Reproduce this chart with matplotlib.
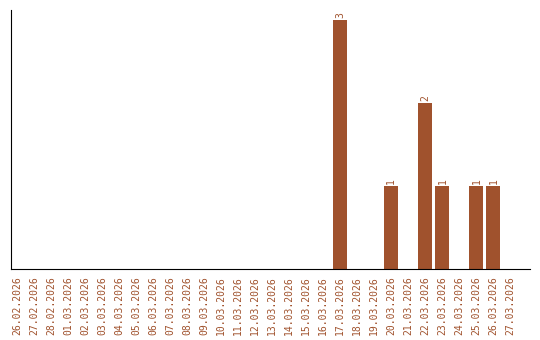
import matplotlib
matplotlib.use('Agg')
import matplotlib.pyplot as plt

# dates shown on the x axis
dates = ['26.02.2026', '27.02.2026', '28.02.2026'] + ['%02d.03.2026' % d for d in range(1, 28)]
counts = [0] * len(dates)
events = {'17.03.2026': 3, '20.03.2026': 1, '22.03.2026': 2,
          '23.03.2026': 1, '25.03.2026': 1, '26.03.2026': 1}
for d, v in events.items():
    counts[dates.index(d)] = v

color = '#A0522D'

fig = plt.figure(figsize=(5.4, 3.4), dpi=100)
ax = fig.add_axes([11 / 540, 71 / 340, 519 / 540, 259 / 340])

x = list(range(len(dates)))
bars = ax.bar(x, counts, width=0.82, color=color)
for xi, v in zip(x, counts):
    if v > 0:
        ax.text(xi, v + 0.02, str(v), rotation=90, ha='center', va='bottom',
                fontsize=7, color=color, family='DejaVu Sans Mono')

ax.set_xlim(-0.35, 30.15)
ax.set_ylim(0, 3.12)
ax.set_xticks(x)
ax.set_xticklabels(dates, rotation=90, fontsize=7, color=color, family='DejaVu Sans Mono')
ax.tick_params(axis='x', length=0, pad=5)
ax.set_yticks([])
ax.spines['top'].set_visible(False)
ax.spines['right'].set_visible(False)

fig.savefig('out.png', dpi=100)
